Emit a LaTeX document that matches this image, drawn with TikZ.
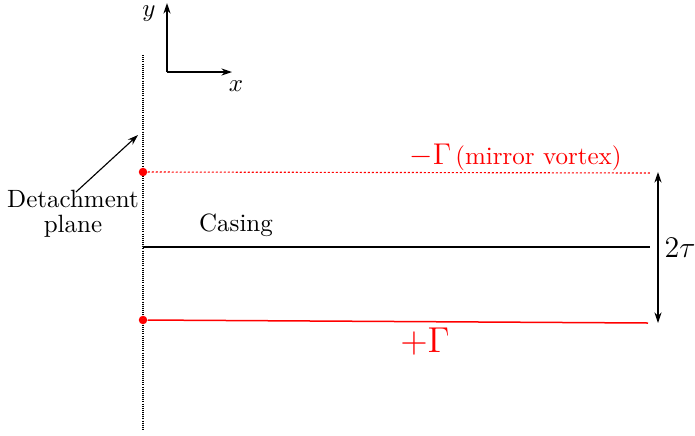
\documentclass[tikz,border=0pt]{standalone}
\usetikzlibrary{arrows.meta}
\begin{document}
\begin{tikzpicture}[x=0.4pt,y=-0.4pt,
  arr/.style={-{Stealth[length=4.2pt,width=2.8pt]}, line width=0.45pt},
  darr/.style={{Stealth[length=4.2pt,width=2.8pt]}-{Stealth[length=4.2pt,width=2.8pt]}, line width=0.45pt},
  lbl/.style={inner sep=0pt},
  reddot/.style={circle, fill=red, inner sep=0pt, minimum size=3.4pt}]
\useasboundingbox (0,0) rectangle (695,435);
% detachment plane
\coordinate (pt) at (143,55);
\coordinate (pb) at (143,430);
\draw[dash pattern=on 0.4pt off 0.45pt, line width=0.45pt] (pt) -- (pb);
% axes
\coordinate (o) at (167,72);
\coordinate (yend) at (167,3);
\coordinate (xend) at (232,72);
\draw[arr] (o) -- (yend);
\draw[arr] (o) -- (xend);
\node[lbl] (ylab) at (149,14) {$y$};
\node[lbl] (xlab) at (236,86) {$x$};
% mirror vortex line
\node[reddot] (m1) at (143,172) {};
\coordinate (m2) at (650,173);
\draw[red, dash pattern=on 0.8pt off 0.8pt, line width=0.45pt] (m1) -- (m2);
\node[lbl, red, anchor=base west] (mlab) at (409,164) {{\fontsize{12.8}{15}\selectfont$-\Gamma$}\,(mirror vortex)};
% casing
\coordinate (c1) at (143,247);
\coordinate (c2) at (650,247);
\draw[line width=0.6pt] (c1) -- (c2);
\node[lbl] (clab) at (236,225) {Casing};
% vortex line
\node[reddot] (v1) at (143,320) {};
\coordinate (v2) at (648,323);
\draw[red, line width=0.6pt] (v1) -- (v2);
\node[lbl, red] (vlab) at (425,342) {\fontsize{13.5}{16}\selectfont$+\Gamma$};
% 2tau
\coordinate (t1) at (658,172);
\coordinate (t2) at (658,323);
\draw[darr] (t1) -- (t2);
\node[lbl] (tlab) at (680,248) {\large$2\tau$};
% detachment label
\node[lbl, align=center] (dlab) at (73,214) {Detachment\\[-2pt]plane};
\coordinate (dtip) at (138,135);
\draw[arr] (76,192) -- (dtip);
\end{tikzpicture}
\end{document}
